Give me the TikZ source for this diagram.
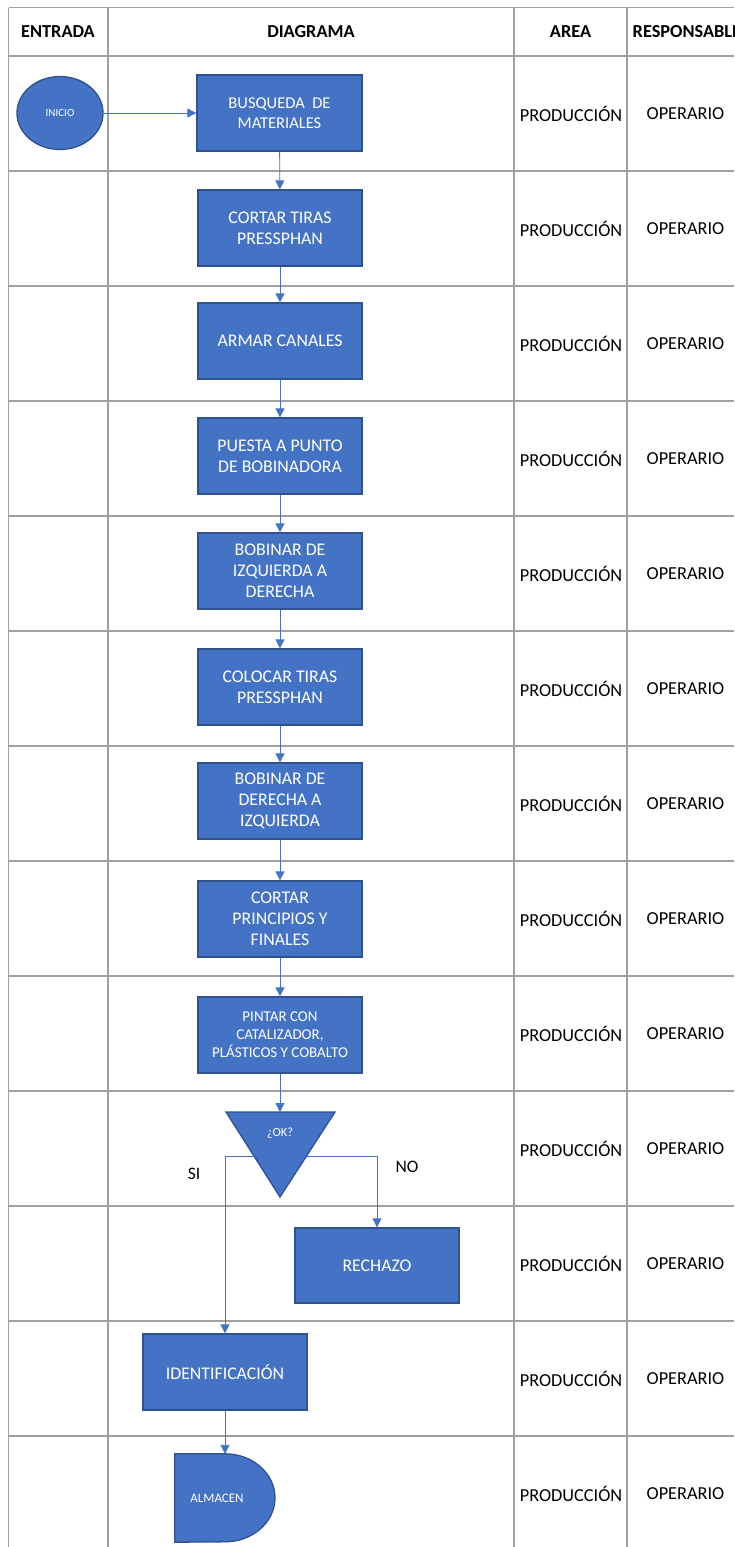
\documentclass[tikz,border=0pt]{standalone}
\usepackage{fontspec}
\setmainfont{Carlito}
\usetikzlibrary{arrows.meta,shapes.geometric}
\definecolor{boxblue}{HTML}{4472C4}
\definecolor{boxedge}{HTML}{2F528F}
\definecolor{gridgray}{HTML}{A0A0A0}
\begin{document}
\begin{tikzpicture}[x=1pt,y=-1pt,
  grid/.style={draw=gridgray, line width=1.1pt},
  proc/.style={draw=boxedge, fill=boxblue, line width=1.3pt, minimum width=164, minimum height=76,
    text=white, align=center, inner sep=0pt, font=\fontsize{17.8}{20.8}\selectfont},
  shapefill/.style={draw=boxedge, fill=boxblue, line width=1.3pt},
  flow/.style={draw=boxblue, line width=0.9pt, -{Triangle[length=9pt,width=9pt]}},
  cell/.style={inner sep=0pt, font=\fontsize{18.3}{21.6}\selectfont},
  hdr/.style={inner sep=0pt, font=\fontsize{18.3}{21.6}\selectfont\bfseries},
  lbl/.style={inner sep=0pt, font=\fontsize{17.5}{20}\selectfont}
]
\useasboundingbox (0,0) rectangle (734,1547);
\clip (0,0) rectangle (734,1547);
\fill[white] (0,0) rectangle (734,1547);

% table grid
\draw[grid] (8.5,7.5) -- (734,7.5);
\foreach \y in {56,171,...,1436} { \draw[grid] (8.5,\y) -- (734,\y); }
\foreach \x in {8.5,108,514,627} { \draw[grid] (\x,7.5) -- (\x,1547); }

% header
\node[hdr] (h1) at (58,32) {ENTRADA};
\node[hdr] (h2) at (311,32) {DIAGRAMA};
\node[hdr] (h3) at (570.5,32) {AREA};
\node[hdr, anchor=west] (h4) at (632.5,32) {RESPONSABLE};

% area / responsable columns
\foreach \i in {1,...,13} {
  \pgfmathsetmacro\ym{56+115*(\i-1)+57.5}
  \node[cell] (area\i) at (571,\ym) {PRODUCCIÓN};
  \node[cell] (resp\i) at (685.5,\ym) {OPERARIO};
}

% start
\node[ellipse, draw=boxedge, fill=boxblue, line width=1.3pt, minimum width=86, minimum height=73,
  inner sep=0pt, text=white, font=\fontsize{11}{13}\selectfont] (ini) at (60,113) {INICIO};

% process boxes
\node[proc, minimum width=165, font=\fontsize{16.5}{20}\selectfont] (b1) at (279.5,113) {BUSQUEDA\ \ DE\\MATERIALES};
\node[proc] (b2) at (280,228) {CORTAR TIRAS\\PRESSPHAN};
\node[proc] (b3) at (280,341) {ARMAR CANALES};
\node[proc] (b4) at (280,456) {PUESTA A PUNTO\\DE BOBINADORA};
\node[proc] (b5) at (280,571) {BOBINAR DE\\IZQUIERDA A\\DERECHA};
\node[proc] (b6) at (280,687) {COLOCAR TIRAS\\PRESSPHAN};
\node[proc] (b7) at (280,801) {BOBINAR DE\\DERECHA A\\IZQUIERDA};
\node[proc] (b8) at (280,919) {CORTAR\\PRINCIPIOS Y\\FINALES};
\node[proc, font=\fontsize{15}{18}\selectfont] (b9) at (280,1035) {PINTAR CON\\CATALIZADOR,\\PLÁSTICOS Y COBALTO};

% decision
\path[shapefill] (226,1112) -- (335,1112) -- (280,1197) -- cycle;
\coordinate (okT) at (280,1112);
\coordinate (okL) at (254,1156);
\coordinate (okR) at (306.5,1156);
\node[inner sep=0pt, text=white, font=\fontsize{12.5}{14}\selectfont] (ok) at (280,1133) {¿OK?};

\node[proc, minimum height=75] (rech) at (377,1265.5) {RECHAZO};
\node[proc] (ident) at (225,1372) {IDENTIFICACIÓN};

% almacen (delay shape)
\node[inner sep=0pt, minimum width=100, minimum height=88] (alm) at (225,1498) {};
\path[shapefill] (alm.north west) -- (alm.north) arc[start angle=-90, end angle=90, x radius=50, y radius=44] -- (alm.south west) -- cycle;
\node[inner sep=0pt, text=white, font=\fontsize{13}{15}\selectfont] (almt) at (217,1498) {ALMACEN};

% labels
\node[lbl] (si) at (194,1174) {SI};
\node[lbl] (no) at (407,1167) {NO};

% connectors
\draw[flow] (ini.east) -- (b1.west);
\draw[flow] (b1) -- (b2);
\draw[flow] (b2) -- (b3);
\draw[flow] (b3) -- (b4);
\draw[flow] (b4) -- (b5);
\draw[flow] (b5) -- (b6);
\draw[flow] (b6) -- (b7);
\draw[flow] (b7) -- (b8);
\draw[flow] (b8) -- (b9);
\draw[flow] (b9) -- (okT);
\draw[flow] (okL) -| (ident.north);
\draw[flow] (okR) -| (rech.north);
\draw[flow] (ident) -- (alm.north);
\end{tikzpicture}
\end{document}
